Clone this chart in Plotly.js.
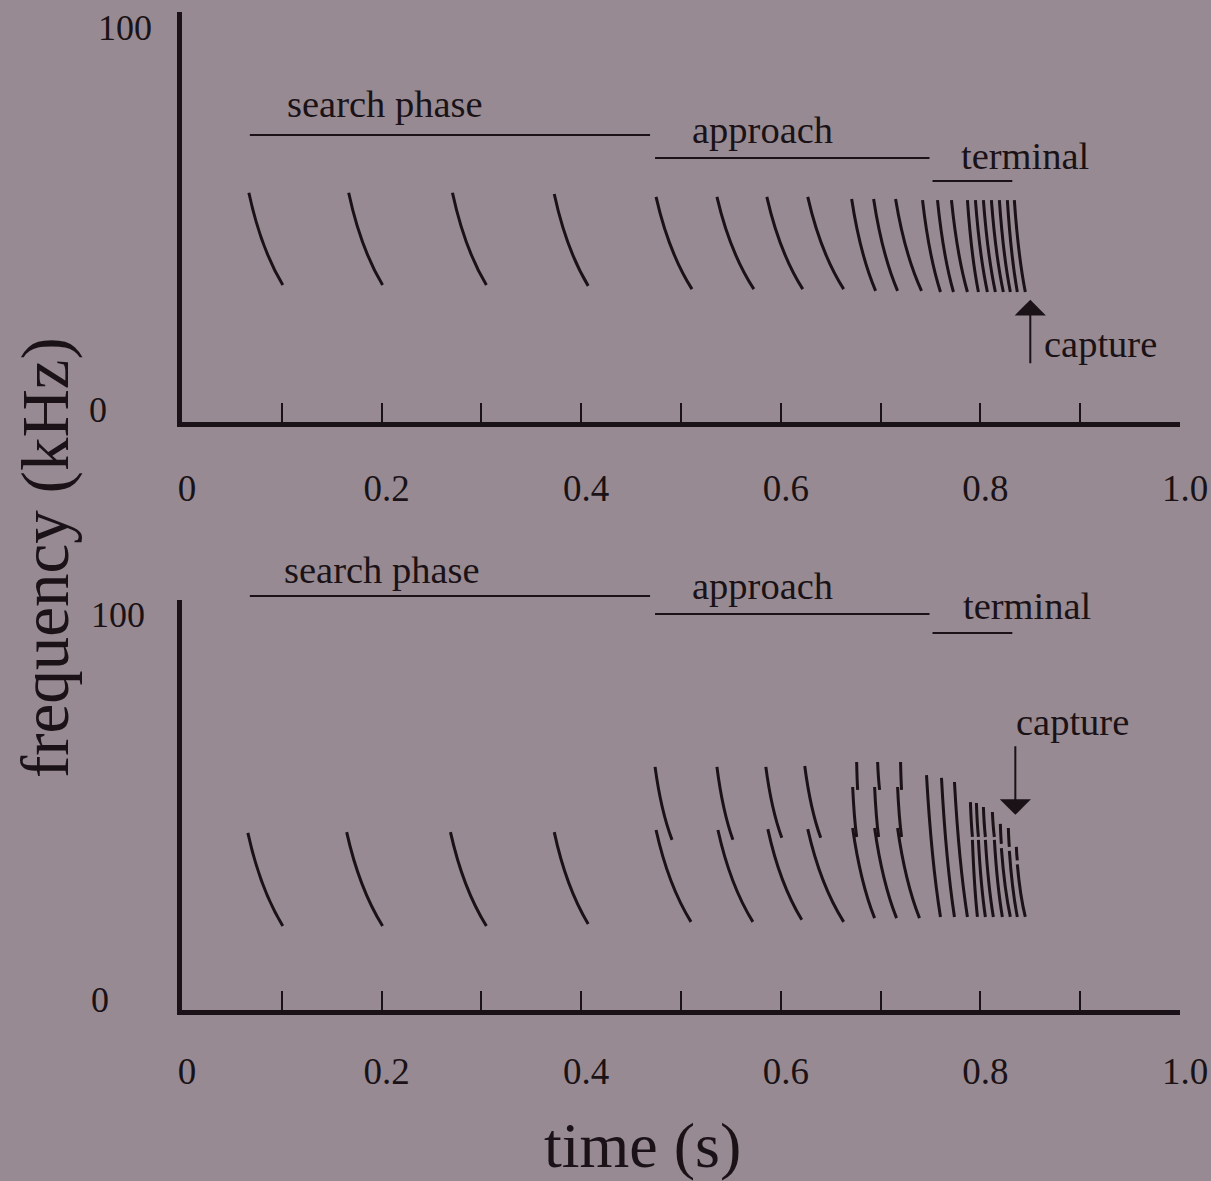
<!DOCTYPE html>
<html>
<head>
<meta charset="utf-8">
<script src="https://cdn.plot.ly/plotly-3.0.1.min.js"></script>
<style>
  html, body { margin: 0; padding: 0; background: #978a92; }
  #chart { width: 1211px; height: 1181px; }
</style>
</head>
<body>
<div id="chart"></div>
<script>
// ---------------- DATA ----------------
// Top panel: one FM sweep per call (time in s, frequency in kHz)
const topCallStart = [0.067, 0.167, 0.271, 0.373, 0.475, 0.536, 0.586, 0.627, 0.671, 0.693, 0.715,
                      0.742, 0.757, 0.771, 0.787, 0.795, 0.803, 0.811, 0.819, 0.827, 0.834];
const topCallEnd   = [0.101, 0.201, 0.305, 0.407, 0.511, 0.573, 0.622, 0.663, 0.695, 0.717, 0.741,
                      0.760, 0.773, 0.787, 0.798, 0.807, 0.815, 0.823, 0.830, 0.837, 0.845];
const topFreqHigh  = [55.9, 55.9, 55.9, 55.6, 54.9, 54.9, 54.9, 54.9, 54.4, 54.4, 54.4,
                      54.1, 54.1, 54.1, 54.1, 54.1, 54.1, 54.1, 54.1, 54.1, 54.1];
const topFreqLow   = [33.4, 33.4, 33.4, 33.2, 32.4, 32.4, 32.4, 32.4, 32.0, 32.0, 32.0,
                      31.7, 31.7, 31.7, 31.7, 31.7, 31.7, 31.7, 31.7, 31.7, 31.7];

// Bottom panel: call segments (several segments for the split / broken calls)
const botSegStart = [0.066, 0.165, 0.269, 0.373,
                     0.474, 0.475, 0.536, 0.537, 0.585, 0.587, 0.624, 0.627,
                     0.676, 0.672, 0.672, 0.697, 0.694, 0.694, 0.720, 0.717, 0.717,
                     0.746, 0.761, 0.774,
                     0.790, 0.792, 0.796, 0.798, 0.803, 0.805, 0.812, 0.814,
                     0.820, 0.821, 0.828, 0.829, 0.836, 0.837];
const botSegEnd   = [0.101, 0.201, 0.305, 0.407,
                     0.491, 0.510, 0.552, 0.572, 0.601, 0.621, 0.640, 0.663,
                     0.677, 0.676, 0.694, 0.699, 0.698, 0.716, 0.721, 0.721, 0.739,
                     0.760, 0.774, 0.787,
                     0.792, 0.797, 0.798, 0.805, 0.805, 0.813, 0.814, 0.822,
                     0.821, 0.830, 0.829, 0.837, 0.837, 0.845];
const botSegHigh  = [43.2, 43.4, 43.4, 43.4,
                     59.3, 43.9, 59.3, 43.9, 59.3, 44.1, 59.5, 44.1,
                     60.5, 54.4, 44.4, 60.5, 54.4, 44.4, 60.5, 54.4, 44.4,
                     57.3, 56.6, 55.6,
                     50.7, 41.5, 50.5, 41.5, 49.5, 41.5, 48.3, 41.5,
                     45.4, 39.5, 44.4, 38.8, 39.8, 35.5];
const botSegLow   = [20.5, 20.5, 20.5, 21.0,
                     41.5, 21.5, 41.5, 21.5, 42.0, 22.0, 42.0, 21.5,
                     53.7, 42.2, 22.4, 53.7, 42.2, 22.4, 53.7, 42.2, 22.4,
                     22.7, 22.7, 22.7,
                     42.2, 22.7, 42.2, 22.7, 42.2, 22.7, 42.2, 22.7,
                     40.5, 22.7, 39.8, 22.7, 36.5, 22.7];

// Phase bars (time spans, s)
const phaseNames = ['search phase', 'approach', 'terminal'];
const phaseStart = [0.068, 0.474, 0.752];
const phaseEnd   = [0.469, 0.749, 0.832];

// Capture times (s) and axis tick labels
const captureTime = [0.850, 0.835];
const captureFreqTop = 29.8;     // arrow tip, top panel (kHz)
const captureFreqBottom = 47.6;  // arrow tip, bottom panel (kHz)
const xTickVals  = [0, 0.1, 0.2, 0.3, 0.4, 0.5, 0.6, 0.7, 0.8, 0.9, 1.0];
const xTickText  = ['0', '', '0.2', '', '0.4', '', '0.6', '', '0.8', '', '1.0'];
const yTickText  = ['0', '100'];

// ---------------- STYLE / LAYOUT ----------------
const W = 1211, H = 1181;
const INK = '#1a1216';
const BG = '#978a92';
const FONT = 'Liberation Serif, Times New Roman, serif';
const px = v => v / W;
const py = v => 1 - v / H;
const BEND_A = 0.35, BEND_B = 0.40;   // curvature of the sweep glyph

function sweepPath(t0, t1, f0, f1) {
  const cx = t0 + BEND_A * (t1 - t0);
  const cy = f1 + BEND_B * (f0 - f1);
  return `M ${t0},${f0} Q ${cx},${cy} ${t1},${f1}`;
}

const shapes = [];
for (let i = 0; i < topCallStart.length; i++) {
  shapes.push({type: 'path', xref: 'x', yref: 'y',
    path: sweepPath(topCallStart[i], topCallEnd[i], topFreqHigh[i], topFreqLow[i]),
    line: {color: INK, width: 3}});
}
for (let i = 0; i < botSegStart.length; i++) {
  shapes.push({type: 'path', xref: 'x2', yref: 'y2',
    path: sweepPath(botSegStart[i], botSegEnd[i], botSegHigh[i], botSegLow[i]),
    line: {color: INK, width: 3}});
}

// phase bars: y positions in page pixels for each panel
const phaseBarY = [[135, 158, 181], [596, 614, 633]];
const phaseLabelY = [[104, 130, 156], [570, 586, 606]];
const phaseLabelX = [[385, 762, 1025], [382, 762, 1027]];
const annotations = [];
[0, 1].forEach(p => {
  const xr = p === 0 ? 'x' : 'x2';
  for (let k = 0; k < phaseNames.length; k++) {
    shapes.push({type: 'line', xref: xr, yref: 'paper',
      x0: phaseStart[k], x1: phaseEnd[k], y0: py(phaseBarY[p][k]), y1: py(phaseBarY[p][k]),
      line: {color: INK, width: 2}});
    annotations.push({text: phaseNames[k], xref: 'paper', yref: 'paper',
      x: px(phaseLabelX[p][k]), y: py(phaseLabelY[p][k]), xanchor: 'center', yanchor: 'middle',
      showarrow: false, font: {family: FONT, size: 38.5, color: INK}});
  }
});

// capture arrows + labels
annotations.push({xref: 'x', yref: 'y', x: captureTime[0], y: captureFreqTop, text: '',
  showarrow: true, ax: 0, ay: 65, arrowhead: 1, arrowsize: 2.6, arrowwidth: 2, arrowcolor: INK});
annotations.push({xref: 'paper', yref: 'paper', x: px(1100), y: py(344), text: 'capture',
  xanchor: 'center', yanchor: 'middle',
  showarrow: false, font: {family: FONT, size: 38.5, color: INK}});
annotations.push({xref: 'x2', yref: 'y2', x: captureTime[1], y: captureFreqBottom, text: '',
  showarrow: true, ax: 0, ay: -70, arrowhead: 1, arrowsize: 2.6, arrowwidth: 2, arrowcolor: INK});
annotations.push({xref: 'paper', yref: 'paper', x: px(1072), y: py(722), text: 'capture',
  xanchor: 'center', yanchor: 'middle',
  showarrow: false, font: {family: FONT, size: 38.5, color: INK}});

// y tick labels (placed like the original figure)
const yTickPos = [[[98, 410], [125, 28]], [[100, 1000], [118, 615]]];
[0, 1].forEach(p => {
  yTickText.forEach((t, k) => {
    annotations.push({text: t, xref: 'paper', yref: 'paper',
      x: px(yTickPos[p][k][0]), y: py(yTickPos[p][k][1]), xanchor: 'center', yanchor: 'middle',
      showarrow: false, font: {family: FONT, size: 36, color: INK}});
  });
});

// axis titles
annotations.push({text: 'frequency (kHz)', xref: 'paper', yref: 'paper', x: px(45), y: py(558),
  textangle: -90, showarrow: false, xanchor: 'center', yanchor: 'middle',
  font: {family: FONT, size: 67, color: INK}});
annotations.push({text: 'time (s)', xref: 'paper', yref: 'paper', x: px(642), y: py(1145),
  showarrow: false, xanchor: 'center', yanchor: 'middle',
  font: {family: FONT, size: 64, color: INK}});

const xAxisBase = {
  range: [0, 1], tickmode: 'array', tickvals: xTickVals, ticktext: xTickText,
  ticks: 'inside', ticklen: 19, tickwidth: 2, tickcolor: INK,
  showline: true, linewidth: 5, linecolor: INK, showgrid: false, zeroline: false,
  ticklabelstandoff: 30, ticklabelshift: 5,
  tickfont: {family: FONT, size: 37, color: INK}, fixedrange: true
};
const yAxisBase = {
  range: [0, 100], showline: true, linewidth: 5, linecolor: INK, ticks: '',
  showticklabels: false, showgrid: false, zeroline: false, fixedrange: true
};

const layout = {
  width: W, height: H, margin: {l: 0, r: 0, t: 0, b: 0},
  paper_bgcolor: BG, plot_bgcolor: BG, showlegend: false,
  xaxis:  Object.assign({}, xAxisBase, {domain: [px(182), px(1180)], anchor: 'y'}),
  yaxis:  Object.assign({}, yAxisBase, {domain: [py(422), py(12)], anchor: 'x'}),
  xaxis2: Object.assign({}, xAxisBase, {domain: [px(182), px(1180)], anchor: 'y2',
                                        ticklabelstandoff: 25}),
  yaxis2: Object.assign({}, yAxisBase, {domain: [py(1010), py(600)], anchor: 'x2'}),
  shapes: shapes, annotations: annotations
};

// invisible anchor traces so both subplots exist
const data = [
  {x: topCallStart, y: topFreqHigh, xaxis: 'x', yaxis: 'y', mode: 'markers',
   marker: {opacity: 0}, hoverinfo: 'skip'},
  {x: botSegStart, y: botSegHigh, xaxis: 'x2', yaxis: 'y2', mode: 'markers',
   marker: {opacity: 0}, hoverinfo: 'skip'}
];

Plotly.newPlot('chart', data, layout, {displayModeBar: false, staticPlot: true});
</script>
</body>
</html>
